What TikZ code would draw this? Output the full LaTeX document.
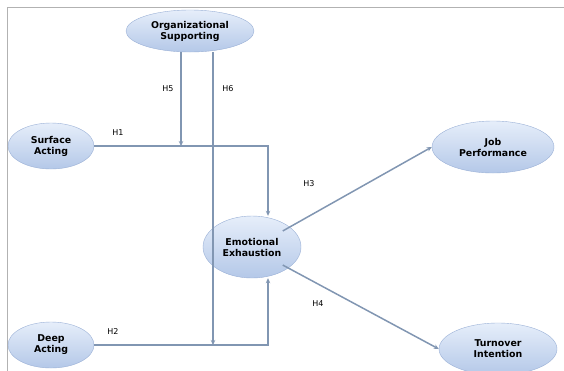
\documentclass[tikz,border=0pt]{standalone}
\usepackage{fontspec}
\setmainfont{DejaVu Sans}
\usetikzlibrary{shapes.geometric,arrows.meta}
\definecolor{nodetop}{HTML}{E6EEFA}
\definecolor{nodebot}{HTML}{B4C8E8}
\definecolor{nodeline}{HTML}{9AB0D6}
\definecolor{edgecol}{HTML}{8196B2}

\begin{document}
\begin{tikzpicture}
  [x=1pt,y=-1pt,
   construct/.style={ellipse,top color=nodetop,bottom color=nodebot,draw=nodeline,
     font=\fontsize{9.4}{11}\selectfont\bfseries,align=center,inner sep=0pt},
   hlabel/.style={font=\fontsize{8}{9}\selectfont,inner sep=1pt},
   path/.style={draw=edgecol,line width=1.5pt,-{Stealth[length=5pt,width=4.5pt]}}]
  \useasboundingbox (0,0) rectangle (564,370);
  \draw[gray!60,line width=0.8pt] (7,372) -- (7,7) -- (566,7);
  \node[construct,minimum width=128pt,minimum height=42pt] (nos) at (190,31) {Organizational\\Supporting};
  \node[construct,minimum width=86pt,minimum height=46pt] (nsa) at (51,146) {Surface\\Acting};
  \node[construct,minimum width=86pt,minimum height=46pt] (nda) at (51,345) {Deep\\Acting};
  \node[construct,minimum width=98pt,minimum height=62pt] (nee) at (252,247) {Emotional\\Exhaustion};
  \node[construct,minimum width=122pt,minimum height=52pt] (njp) at (493,147) {Job\\Performance};
  \node[construct,minimum width=118pt,minimum height=52pt] (nti) at (498,349) {Turnover\\Intention};
  \coordinate (ch5) at (181,146);
  \coordinate (ch6) at (213,345);
  \draw[path] (nsa.east) -- (268,146) -- (nee.north -| 268,0);
  \draw[path] (nda.east) -- (268,345) -- (nee.south -| 268,0);
  \draw[path] (nos.south -| ch5) -- (ch5);
  \draw[path] (nos.south -| ch6) -- (ch6);
  \draw[path] (nee.north east) ++(-4,6) -- (njp.west);
  \draw[path] (nee.south east) ++(-4,-4) -- (nti.west);
  \node[hlabel] (lh1) at (118,133) {H1};
  \node[hlabel] (lh2) at (113,332) {H2};
  \node[hlabel] (lh3) at (309,184) {H3};
  \node[hlabel] (lh4) at (318,304) {H4};
  \node[hlabel] (lh5) at (168,89) {H5};
  \node[hlabel] (lh6) at (228,89) {H6};
\end{tikzpicture}
\end{document}
